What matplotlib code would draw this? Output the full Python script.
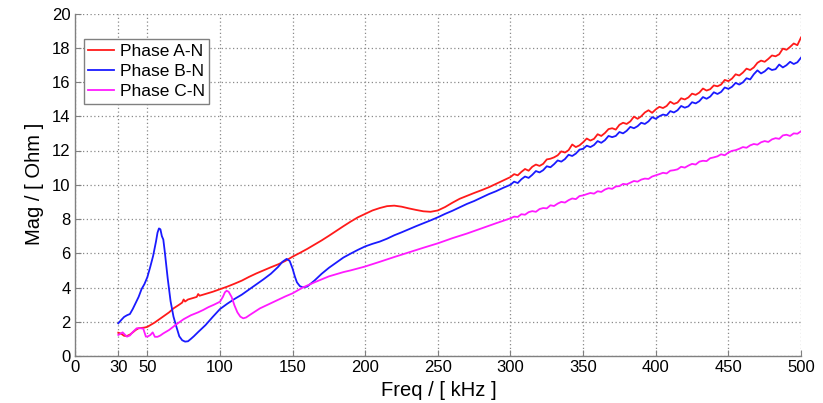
import matplotlib
matplotlib.use("Agg")
import matplotlib.pyplot as plt

# ---------------- data ----------------
freq_a = [30, 32, 34, 36, 38, 40, 42, 44, 46, 48, 50, 55, 60, 65, 68, 72, 74, 75, 76, 78, 80, 82, 84, 85, 86,
          90, 95, 100, 105, 110, 115, 120, 125, 130, 135, 140, 145, 150, 155, 160, 165, 170, 175, 180, 185,
          190, 195, 200, 205, 210, 215, 220, 225, 230, 235, 240, 245, 250, 255, 260, 265, 270, 275, 280,
          285, 290, 295, 300,
          302.5, 305, 307.5, 310, 312.5, 315, 317.5, 320, 322.5, 325, 327.5, 330, 332.5, 335, 337.5, 340,
          342.5, 345, 347.5, 350, 352.5, 355, 357.5, 360, 362.5, 365, 367.5, 370, 372.5, 375, 377.5, 380,
          382.5, 385, 387.5, 390, 392.5, 395, 397.5, 400, 402.5, 405, 407.5, 410, 412.5, 415, 417.5, 420,
          422.5, 425, 427.5, 430, 432.5, 435, 437.5, 440, 442.5, 445, 447.5, 450, 452.5, 455, 457.5, 460,
          462.5, 465, 467.5, 470, 472.5, 475, 477.5, 480, 482.5, 485, 487.5, 490, 492.5, 495, 497.5, 500]
mag_a = [1.36, 1.30, 1.18, 1.17, 1.25, 1.38, 1.52, 1.62, 1.64, 1.66, 1.70, 1.95, 2.25, 2.55, 2.78, 3.00, 3.12,
         3.30, 3.18, 3.30, 3.35, 3.40, 3.45, 3.62, 3.52,
         3.62, 3.75, 3.90, 4.05, 4.22, 4.40, 4.62, 4.82, 5.00, 5.18, 5.35, 5.55, 5.80, 6.02, 6.25, 6.50,
         6.75, 7.02, 7.30, 7.58, 7.85, 8.10, 8.30, 8.50, 8.64, 8.75, 8.78, 8.72, 8.62, 8.53, 8.45, 8.42,
         8.50, 8.70, 8.95, 9.18, 9.35, 9.52, 9.68, 9.85, 10.05, 10.25, 10.45,
         10.62, 10.55, 10.75, 10.92, 10.82, 11.05, 11.18, 11.10, 11.22, 11.48, 11.52, 11.60, 11.72, 11.95,
         11.88, 12.02, 12.35, 12.20, 12.30, 12.48,
         12.70, 12.58, 12.68, 12.95, 12.85, 13.02, 13.25, 13.30, 13.22, 13.50, 13.62, 13.55, 13.70, 13.98,
         13.85, 14.00, 14.22, 14.35, 14.20, 14.40,
         14.55, 14.48, 14.60, 14.85, 14.72, 14.80, 15.05, 14.98, 15.10, 15.32, 15.25, 15.38, 15.62, 15.50,
         15.58, 15.80, 15.75, 15.85, 16.12, 16.05,
         16.20, 16.45, 16.38, 16.55, 16.78, 16.70, 16.85, 17.12, 17.25, 17.18, 17.35, 17.55, 17.50, 17.62,
         17.95, 17.88, 18.05, 18.25, 18.15, 18.60]

freq_b = [30, 32, 34, 36, 38, 40, 42, 44, 46, 48, 50, 52, 54, 56, 57, 58, 59, 60, 61, 62, 63, 64, 65, 66, 68,
          70, 72, 74, 76, 78, 80, 82, 85, 90, 95, 100, 105, 110, 115, 120, 125, 130, 135, 140, 143, 145.9,
          148, 150, 151.6, 153, 155, 157, 160, 165, 170, 175, 180, 185, 190, 195, 200, 205, 210, 215, 220,
          225, 230, 235, 240, 245, 250, 255, 260, 265, 270, 275, 280, 285, 290, 295, 300,
          302.5, 305, 307.5, 310, 312.5, 315, 317.5, 320, 322.5, 325, 327.5, 330, 332.5, 335, 337.5, 340,
          342.5, 345, 347.5, 350, 352.5, 355, 357.5, 360, 362.5, 365, 367.5, 370, 372.5, 375, 377.5, 380,
          382.5, 385, 387.5, 390, 392.5, 395, 397.5, 400, 402.5, 405, 407.5, 410, 412.5, 415, 417.5, 420,
          422.5, 425, 427.5, 430, 432.5, 435, 437.5, 440, 442.5, 445, 447.5, 450, 452.5, 455, 457.5, 460,
          462.5, 465, 467.5, 470, 472.5, 475, 477.5, 480, 482.5, 485, 487.5, 490, 492.5, 495, 497.5, 500]
mag_b = [1.91, 2.10, 2.28, 2.38, 2.45, 2.75, 3.10, 3.45, 3.90, 4.20, 4.60, 5.20, 5.85, 6.70, 7.20, 7.45, 7.40,
         7.00, 6.80, 6.10, 5.30, 4.55, 3.85, 3.20, 2.30, 1.71, 1.15, 0.92, 0.84, 0.86, 1.00, 1.15, 1.40,
         1.80, 2.28, 2.74, 3.05, 3.33, 3.58, 3.88, 4.18, 4.48, 4.80, 5.20, 5.50, 5.67, 5.55, 5.10, 4.63,
         4.30, 4.08, 4.01, 4.05, 4.40, 4.80, 5.15, 5.45, 5.75, 5.98, 6.20, 6.40, 6.55, 6.68, 6.85, 7.05,
         7.22, 7.40, 7.58, 7.75, 7.92, 8.10, 8.30, 8.48, 8.68, 8.88, 9.05, 9.25, 9.45, 9.62, 9.82, 10.00,
         10.18, 10.10, 10.32, 10.48, 10.40, 10.58, 10.80, 10.72, 10.85, 11.08, 11.02, 11.20, 11.42, 11.35,
         11.50, 11.75, 11.68, 11.82, 12.05, 12.10,
         12.28, 12.20, 12.32, 12.55, 12.45, 12.60, 12.85, 12.78, 12.85, 13.08, 13.00, 13.15, 13.38, 13.30,
         13.42, 13.62, 13.55, 13.70, 13.95, 13.85,
         14.00, 14.10, 14.05, 14.30, 14.22, 14.35, 14.60, 14.50, 14.58, 14.82, 14.75, 14.88, 15.12, 15.02,
         15.15, 15.40, 15.30, 15.42, 15.68, 15.60,
         15.72, 15.95, 15.85, 15.98, 16.22, 16.15, 16.45, 16.68, 16.50, 16.62, 16.82, 16.70, 16.75, 17.02,
         16.85, 16.98, 17.18, 17.05, 17.15, 17.42]

freq_c = [30, 31.5, 33, 34.5, 36, 38, 40, 42.7, 45, 47.2, 48, 49, 50.5, 52, 53.7, 55.2, 57, 59, 61, 65, 70,
          75, 80, 85, 88.5, 92, 96, 100, 102, 103.4, 104.6, 106, 108, 110, 112, 114, 116, 118, 120.6,
          127.5, 135, 140, 145, 150, 157, 165, 175, 185, 190, 199.7, 210, 220, 230, 240, 250, 260, 270,
          280, 290, 300,
          302.5, 305, 307.5, 310, 312.5, 315, 317.5, 320, 322.5, 325, 327.5, 330, 332.5, 335, 337.5, 340,
          342.5, 345, 347.5, 350, 352.5, 355, 357.5, 360, 362.5, 365, 367.5, 370, 372.5, 375, 377.5, 380,
          382.5, 385, 387.5, 390, 392.5, 395, 397.5, 400, 402.5, 405, 407.5, 410, 412.5, 415, 417.5, 420,
          422.5, 425, 427.5, 430, 432.5, 435, 437.5, 440, 442.5, 445, 447.5, 450, 452.5, 455, 457.5, 460,
          462.5, 465, 467.5, 470, 472.5, 475, 477.5, 480, 482.5, 485, 487.5, 490, 492.5, 495, 497.5, 500]
mag_c = [1.23, 1.30, 1.38, 1.25, 1.13, 1.20, 1.40, 1.62, 1.62, 1.60, 1.40, 1.13, 1.15, 1.22, 1.38, 1.12,
         1.12, 1.20, 1.32, 1.52, 1.85, 2.15, 2.38, 2.55, 2.69, 2.85, 3.00, 3.17, 3.45, 3.72, 3.81, 3.75,
         3.45, 2.95, 2.55, 2.30, 2.20, 2.25, 2.40, 2.78, 3.08, 3.28, 3.48, 3.66, 4.00, 4.30, 4.65, 4.90,
         5.00, 5.22, 5.50, 5.78, 6.05, 6.32, 6.58, 6.88, 7.15, 7.45, 7.75, 8.04,
         8.14, 8.12, 8.28, 8.25, 8.40, 8.46, 8.42, 8.58, 8.64, 8.62, 8.80, 8.76, 8.90, 9.00, 8.96, 9.10,
         9.20, 9.16, 9.34, 9.38,
         9.45, 9.52, 9.48, 9.62, 9.58, 9.72, 9.80, 9.76, 9.90, 9.92, 10.05, 10.02, 10.12, 10.22, 10.18,
         10.30, 10.36, 10.34, 10.48, 10.55,
         10.62, 10.70, 10.66, 10.82, 10.85, 10.90, 11.05, 11.00, 11.12, 11.22, 11.18, 11.35, 11.40, 11.38,
         11.55, 11.60, 11.66, 11.78, 11.72, 11.88,
         11.98, 12.02, 12.10, 12.20, 12.16, 12.30, 12.38, 12.34, 12.48, 12.55, 12.50, 12.65, 12.72, 12.68,
         12.88, 12.92, 12.85, 13.00, 12.98, 13.12]

series_labels = ["Phase A-N", "Phase B-N", "Phase C-N"]
x_ticks = [0, 30, 50, 100, 150, 200, 250, 300, 350, 400, 450, 500]
y_ticks = [0, 2, 4, 6, 8, 10, 12, 14, 16, 18, 20]
x_label = "Freq / [ kHz ]"
y_label = "Mag / [ Ohm ]"

# ---------------- plot ----------------
plt.rcParams['font.family'] = ['Liberation Sans', 'DejaVu Sans']
W, H = 823, 403
fig = plt.figure(figsize=(W / 100, H / 100), dpi=100)
ax = fig.add_axes([74.7 / W, 1 - 356 / H, (801 - 74.7) / W, (356 - 13.5) / H])

ax.plot(freq_a, mag_a, color='#ff1a1a', lw=1.3, label=series_labels[0])
ax.plot(freq_b, mag_b, color='#1a1aff', lw=1.3, label=series_labels[1])
ax.plot(freq_c, mag_c, color='#ff1aff', lw=1.3, label=series_labels[2])

ax.set_xlim(0, 500)
ax.set_ylim(0, 20)
ax.set_xticks(x_ticks)
ax.set_yticks(y_ticks)
ax.tick_params(direction='in', length=4, width=0.8, color='#808080', labelsize=12, pad=3)
ax.grid(True, linestyle=(0, (1, 2)), color='#8a8a8a', lw=0.9)
for s in ['top', 'right']:
    ax.spines[s].set_visible(False)
for s in ['left', 'bottom']:
    ax.spines[s].set_color('#808080')
    ax.spines[s].set_linewidth(1.0)

fig.text(439 / W, 1 - 390 / H, x_label, fontsize=14.5, ha='center', va='center')
fig.text(34 / W, 1 - 184 / H, y_label, fontsize=14.5, ha='center', va='center', rotation=90)

leg = ax.legend(loc='upper left', bbox_to_anchor=(0.008, 0.935), fontsize=12.5, frameon=True,
                fancybox=False, edgecolor='#808080', framealpha=1, borderpad=0.25,
                handlelength=1.5, handletextpad=0.3, labelspacing=0.3, borderaxespad=0.2)
leg.get_frame().set_linewidth(1.0)

fig.savefig("out.png", dpi=100)
